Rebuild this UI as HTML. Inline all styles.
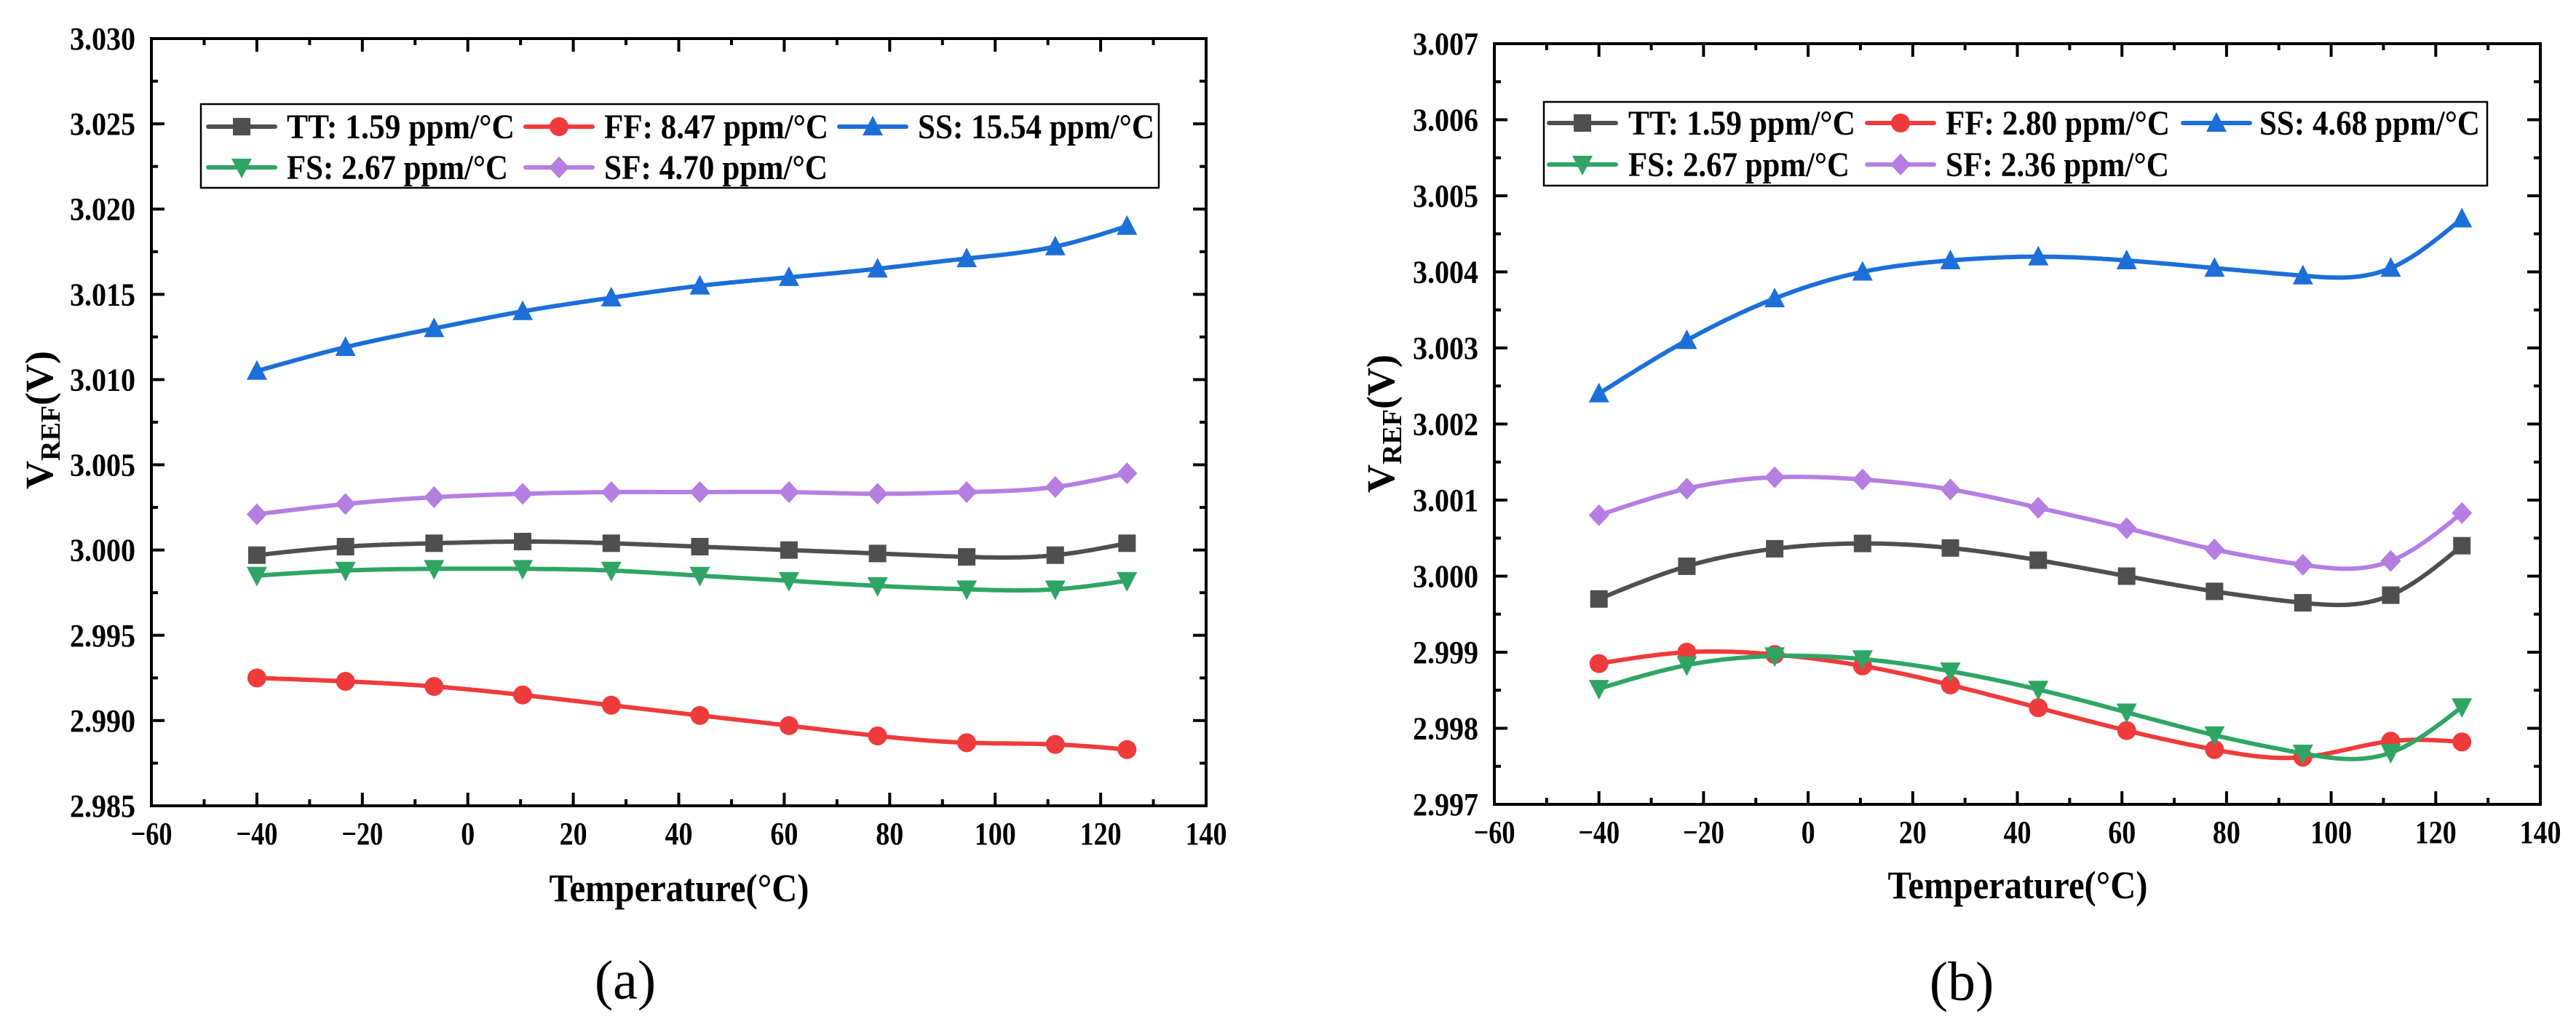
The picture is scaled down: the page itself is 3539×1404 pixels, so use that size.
<!DOCTYPE html>
<html><head><meta charset="utf-8">
<style>
html,body{margin:0;padding:0;background:#fff;}
svg{display:block;}
text{font-family:"Liberation Serif",serif;}
</style></head>
<body>
<svg id="svg" width="3539" height="1404" viewBox="0 0 3539 1404" xmlns="http://www.w3.org/2000/svg"></svg>
<script>
const temps = [-40,-23.2,-6.4,10.4,27.2,44,60.9,77.7,94.6,111.4,125];
const seriesNames = ["TT","FF","SS","FS","SF"];
// chart (a)
const aTT = [2.9997,3.0002,3.0004,3.0005,3.0004,3.0002,3.0000,2.9998,2.9996,2.9997,3.0004];
const aFF = [2.9925,2.9923,2.9920,2.9915,2.9909,2.9903,2.9897,2.9891,2.9887,2.9886,2.9883];
const aSS = [3.0105,3.0119,3.0130,3.0140,3.0148,3.0155,3.0160,3.0165,3.0171,3.0178,3.0190];
const aFS = [2.9985,2.9988,2.9989,2.9989,2.9988,2.9985,2.9982,2.9979,2.9977,2.9977,2.9982];
const aSF = [3.0021,3.0027,3.0031,3.0033,3.0034,3.0034,3.0034,3.0033,3.0034,3.0037,3.0045];
const aLegend = ["TT: 1.59 ppm/°C","FF: 8.47 ppm/°C","SS: 15.54 ppm/°C","FS: 2.67 ppm/°C","SF: 4.70 ppm/°C"];
const aYTicks = ["2.985","2.990","2.995","3.000","3.005","3.010","3.015","3.020","3.025","3.030"];
// chart (b)
const bTT = [2.9997,3.00013,3.00036,3.00043,3.00037,3.00021,3.0000,2.9998,2.99965,2.99975,3.0004];
const bFF = [2.99885,2.9990,2.99897,2.99882,2.99857,2.99827,2.99797,2.99772,2.99762,2.99783,2.99782];
const bSS = [3.0024,3.0031,3.00365,3.0040,3.00415,3.0042,3.00415,3.00405,3.00395,3.00405,3.0047];
const bFS = [2.99852,2.99883,2.99895,2.99891,2.99875,2.99851,2.99821,2.99791,2.99767,2.99768,2.99828];
const bSF = [3.0008,3.00115,3.0013,3.00127,3.00114,3.0009,3.00063,3.00035,3.00015,3.0002,3.00083];
const bLegend = ["TT: 1.59 ppm/°C","FF: 2.80 ppm/°C","SS: 4.68 ppm/°C","FS: 2.67 ppm/°C","SF: 2.36 ppm/°C"];
const bYTicks = ["2.997","2.998","2.999","3.000","3.001","3.002","3.003","3.004","3.005","3.006","3.007"];
const xTicks = [-60,-40,-20,0,20,40,60,80,100,120,140];

const colors = {TT:"#4f4f4f",FF:"#ef3b3b",SS:"#1c6fd8",FS:"#2fa565",SF:"#b57ee2"};
const NS="http://www.w3.org/2000/svg";
const svg=document.getElementById('svg');
function mk(tag,attrs,parent){const e=document.createElementNS(NS,tag);for(const k in attrs)e.setAttribute(k,attrs[k]);(parent||svg).appendChild(e);return e;}

function spline(xs,ys){
  const n=xs.length,h=[],al=[],l=[1],mu=[0],z=[0],c=new Array(n).fill(0),b=[],d=[];
  for(let i=0;i<n-1;i++)h.push(xs[i+1]-xs[i]);
  for(let i=1;i<n-1;i++)al[i]=3/h[i]*(ys[i+1]-ys[i])-3/h[i-1]*(ys[i]-ys[i-1]);
  for(let i=1;i<n-1;i++){l[i]=2*(xs[i+1]-xs[i-1])-h[i-1]*mu[i-1];mu[i]=h[i]/l[i];z[i]=(al[i]-h[i-1]*z[i-1])/l[i];}
  l[n-1]=1;z[n-1]=0;c[n-1]=0;
  for(let j=n-2;j>=0;j--){c[j]=z[j]-mu[j]*c[j+1];b[j]=(ys[j+1]-ys[j])/h[j]-h[j]*(c[j+1]+2*c[j])/3;d[j]=(c[j+1]-c[j])/(3*h[j]);}
  return x=>{let i=0;while(i<n-2&&x>xs[i+1])i++;const dx=x-xs[i];return ys[i]+b[i]*dx+c[i]*dx*dx+d[i]*dx*dx*dx;};
}

function marker(g,name,x,y,col){
  const s=12;
  let m;
  if(name==="TT") m=mk('rect',{x:x-s,y:y-s,width:2*s,height:2*s,fill:col},g);
  else if(name==="FF") m=mk('circle',{cx:x,cy:y,r:s+1,fill:col},g);
  else if(name==="SS") m=mk('polygon',{points:`${x},${y-s-3} ${x+s+2},${y+s} ${x-s-2},${y+s}`,fill:col},g);
  else if(name==="FS") m=mk('polygon',{points:`${x},${y+s+3} ${x+s+2},${y-s} ${x-s-2},${y-s}`,fill:col},g);
  else m=mk('polygon',{points:`${x},${y-s-3} ${x+s+2},${y} ${x},${y+s+3} ${x-s-2},${y}`,fill:col},g);
  return m;
}

function chart(cfg){
  const g=mk('g',{});
  
  
  const {L,R,T,B,ymin,ymax}=cfg;
  const sx=v=>L+(v-(-60))/(200)*(R-L);
  const sy=v=>B-(v-ymin)/(ymax-ymin)*(B-T);
  const sets=cfg.data;
  seriesNames.forEach((nm,k)=>{
    const ys=sets[k],f=spline(temps,ys);
    let d='';
    for(let t=temps[0];t<=temps[temps.length-1]+1e-9;t+=0.5){d+=(d?'L':'M')+sx(t).toFixed(1)+','+sy(f(t)).toFixed(1);}
    const p=mk('path',{d,fill:'none',stroke:colors[nm],'stroke-width':6,'stroke-linejoin':'round'},g);
    
    
    temps.forEach((t,i)=>{const m=marker(g,nm,sx(t),sy(ys[i]),colors[nm]);
      
      });
  });
  const fr=mk('rect',{x:L,y:T,width:R-L,height:B-T,fill:'none',stroke:'#000','stroke-width':4},g);
  
  
  for(let v=-60;v<=140;v+=10){
    const x=sx(v),len=(v%20===0)?18:9;
    mk('line',{x1:x,y1:B,x2:x,y2:B-len,stroke:'#000','stroke-width':4},g);
    mk('line',{x1:x,y1:T,x2:x,y2:T+len,stroke:'#000','stroke-width':4},g);
  }
  xTicks.forEach(v=>{const lab=v<0?'−'+(-v):String(v);
    const t=mk('text',{x:sx(v),y:B+53,'font-size':44,'font-weight':'bold','text-anchor':'middle',textLength:lab.length*19,lengthAdjust:'spacingAndGlyphs'},g);
    t.textContent=lab;
    
    });
  const ticks=cfg.yTicks,n=ticks.length-1,step=(ymax-ymin)/n;
  for(let i=0;i<=2*n;i++){
    const y=sy(ymin+i*step/2),len=(i%2===0)?18:9;
    mk('line',{x1:L,y1:y,x2:L+len,y2:y,stroke:'#000','stroke-width':4},g);
    mk('line',{x1:R,y1:y,x2:R-len,y2:y,stroke:'#000','stroke-width':4},g);
  }
  ticks.forEach((lab,i)=>{const t=mk('text',{x:L-22,y:sy(ymin+i*step)+15,'font-size':44,'font-weight':'bold','text-anchor':'end',textLength:90,lengthAdjust:'spacingAndGlyphs'},g);
    t.textContent=lab;
    
    });
  const xt=mk('text',{x:cfg.xtX,y:cfg.xtY,'font-size':54,'font-weight':'bold','text-anchor':'middle',textLength:357,lengthAdjust:'spacingAndGlyphs'},g);
  xt.textContent='Temperature(°C)';
  
  
  const yt=mk('text',{transform:`translate(${cfg.ytX},${cfg.ytY}) rotate(-90)`,'font-size':54,'font-weight':'bold','text-anchor':'middle'},g);
  yt.innerHTML='V<tspan font-size="38" dy="10">REF</tspan><tspan dy="-10">(V)</tspan>';
  
  
  const cap=mk('text',{x:cfg.capX,y:cfg.capY,'font-size':76,'text-anchor':'middle'},g);
  cap.textContent=cfg.cap;
  
  
  const lg=cfg.lg;
  const box=mk('rect',{x:lg.x0,y:lg.y0,width:lg.x1-lg.x0,height:lg.y1-lg.y0,fill:'#fff',stroke:'#000','stroke-width':2.5},g);
  
  
  const pos=[[0,0],[1,0],[2,0],[0,1],[1,1]];
  seriesNames.forEach((nm,k)=>{
    const mx=lg.mx[pos[k][0]],ty=lg.ry[pos[k][1]],tx=lg.tx[pos[k][0]];
    mk('line',{x1:mx-46,y1:ty,x2:mx+46,y2:ty,stroke:colors[nm],'stroke-width':6,'stroke-linecap':'round'},g);
    marker(g,nm,mx,ty,colors[nm]);
    const t=mk('text',{x:tx,y:ty+16,'font-size':48,'font-weight':'bold',textLength:lg.w[k],lengthAdjust:'spacingAndGlyphs'},g);
    t.textContent=cfg.legend[k];
    
    
  });
}

chart({name:'chart-a',L:208,R:1657,T:53,B:1107,ymin:2.985,ymax:3.030,yTicks:aYTicks,
  data:[aTT,aFF,aSS,aFS,aSF],legend:aLegend,xtX:933,xtY:1238,ytX:72,ytY:577,cap:'(a)',capX:859,capY:1372,
  lg:{x0:276,y0:143,x1:1592,y1:258,mx:[332,768,1199],tx:[394,830,1261],ry:[174,230],w:[313,308,325,304,307]}});
chart({name:'chart-b',L:2053,R:3490,T:60,B:1105,ymin:2.997,ymax:3.007,yTicks:bYTicks,
  data:[bTT,bFF,bSS,bFS,bSF],legend:bLegend,xtX:2772,xtY:1234,ytX:1915,ytY:582,cap:'(b)',capX:2695,capY:1374,
  lg:{x0:2121,y0:140,x1:3417,y1:255,mx:[2174,2611,3045],tx:[2237,2673,3104],ry:[169,226],w:[312,308,303,304,307]}});
</script>
</body></html>
